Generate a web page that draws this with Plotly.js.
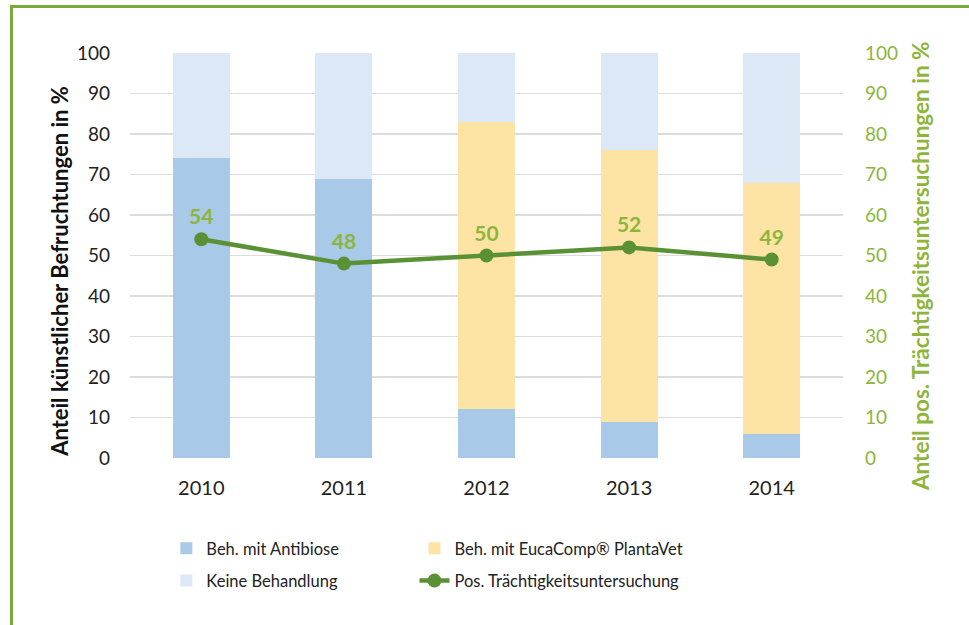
<!DOCTYPE html>
<html>
<head>
<meta charset="utf-8">
<script src="https://cdn.plot.ly/plotly-3.0.1.min.js"></script>
<style>
  html, body { margin: 0; padding: 0; background: #fff; }
  #wrap { position: relative; width: 969px; height: 625px; overflow: hidden; }
  #frame { position: absolute; left: 10px; top: 5px; right: -10px; bottom: -10px;
           border-left: 3px solid #77ab3b; border-top: 3px solid #77ab3b; pointer-events: none; }
  #chart { position: absolute; left: 0; top: 0; width: 969px; height: 625px; }
</style>
</head>
<body>
<div id="wrap">
  <div id="chart"></div>
  <div id="frame"></div>
</div>
<script>
const years = ['2010', '2011', '2012', '2013', '2014'];
const antibiose = [74, 69, 12, 9, 6];
const eucacomp = [0, 0, 71, 67, 62];
const keine = [26, 31, 17, 24, 32];
const positiv = [54, 48, 50, 52, 49];
const leftTitle = 'Anteil künstlicher Befruchtungen in %';
const rightTitle = 'Anteil pos. Trächtigkeitsuntersuchungen in %';

const FONT = 'Lato, "Open Sans", sans-serif';

const traces = [
  { type: 'bar', name: 'Beh. mit Antibiose', x: years, y: antibiose,
    marker: { color: '#a9c9e8' }, legend: 'legend', legendgroup: 'a', hoverinfo: 'y' },
  { type: 'bar', name: 'Beh. mit EucaComp® PlantaVet', x: years, y: eucacomp,
    marker: { color: '#fde4a5' }, legend: 'legend2', legendgroup: 'b', hoverinfo: 'y' },
  { type: 'bar', name: 'Keine Behandlung', x: years, y: keine,
    marker: { color: '#dce8f5' }, legend: 'legend', legendgroup: 'c', hoverinfo: 'y' },
  { type: 'scatter', mode: 'lines+markers+text', name: 'Pos. Trächtigkeitsuntersuchung',
    x: years, y: positiv, yaxis: 'y2', legend: 'legend2', legendgroup: 'd',
    text: positiv.map(String), textposition: 'top center',
    textfont: { family: FONT, size: 21, color: '#8db53c', weight: 'bold' },
    line: { color: '#5b9135', width: 4.5 },
    marker: { color: '#5b9135', size: 14 } }
];

const layout = {
  width: 969, height: 625,
  margin: { l: 130, r: 126, t: 53, b: 167 },
  paper_bgcolor: '#fff', plot_bgcolor: '#fff',
  barmode: 'stack', bargap: 0.6,
  font: { family: FONT, size: 18, color: '#222' },
  showlegend: true,
  xaxis: {
    type: 'category', showgrid: false, zeroline: false, showline: false,
    ticks: '', tickfont: { size: 20, color: '#222' }, ticklabelstandoff: 16
  },
  yaxis: {
    range: [0, 100], dtick: 10, showgrid: true, gridcolor: '#dcdcdc', gridwidth: 1.5,
    zeroline: false, showline: false, ticks: '',
    tickfont: { size: 19, color: '#222' }, ticklabelstandoff: 19
  },
  yaxis2: {
    overlaying: 'y', side: 'right', range: [0, 100], dtick: 10,
    showgrid: false, zeroline: false, showline: false, ticks: '',
    tickfont: { size: 19, color: '#8db53c' }, ticklabelstandoff: 21
  },
  annotations: [
    { text: leftTitle, xref: 'paper', yref: 'paper', x: -0.0982, y: 0.462,
      xanchor: 'center', yanchor: 'middle', textangle: -90, showarrow: false,
      font: { size: 22, color: '#111', weight: 'bold' } },
    { text: rightTitle, xref: 'paper', yref: 'paper', x: 1.108, y: 0.474,
      xanchor: 'center', yanchor: 'middle', textangle: -90, showarrow: false,
      font: { size: 22.5, color: '#8db53c', weight: 'bold' } }
  ],
  legend: {
    x: 0.051, y: -0.18, xanchor: 'left', yanchor: 'top', orientation: 'v',
    traceorder: 'grouped', font: { size: 16.5, color: '#222' },
    itemwidth: 30, tracegroupgap: 8, bgcolor: 'rgba(0,0,0,0)'
  },
  legend2: {
    x: 0.399, y: -0.18, xanchor: 'left', yanchor: 'top', orientation: 'v',
    traceorder: 'grouped', font: { size: 16.5, color: '#222' },
    itemwidth: 30, tracegroupgap: 8, bgcolor: 'rgba(0,0,0,0)'
  }
};

Plotly.newPlot('chart', traces, layout, { displayModeBar: false, staticPlot: true });
</script>
</body>
</html>
